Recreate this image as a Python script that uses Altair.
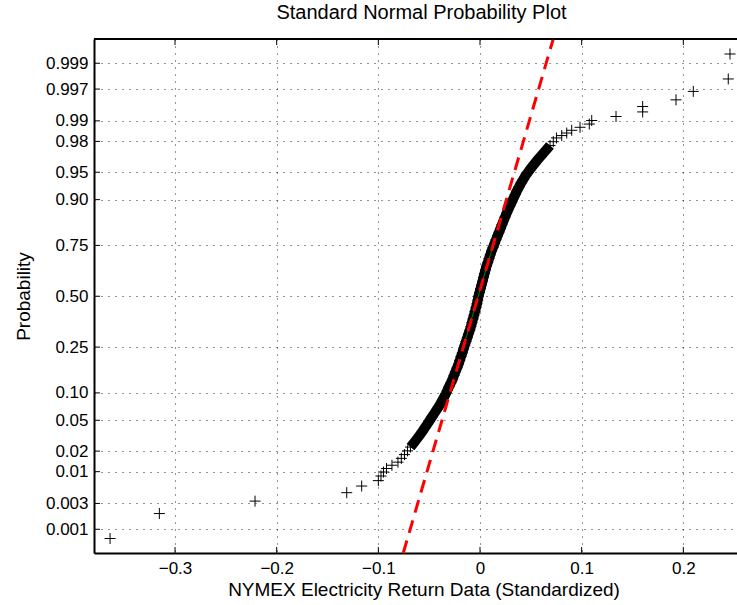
import altair as alt
import pandas as pd
from statistics import NormalDist

nd = NormalDist()

# ---------------- data ----------------
# y values are standard-normal quantiles of the plotting positions
lo_z = [-3.213, -2.882, -2.717, -2.605, -2.517, -2.445, -2.384, -2.331, -2.284, -2.241]
lo_x = [-0.3639, -0.3154, -0.2213, -0.1311, -0.1164, -0.1000, -0.0974, -0.0949, -0.0920, -0.0866]

dense_z = [-2.20, -2.15, -2.10, -2.05, -2.00, -1.95, -1.90, -1.85, -1.80, -1.75,
           -1.70, -1.65, -1.60, -1.55, -1.50, -1.45, -1.40, -1.35, -1.30, -1.25,
           -1.20, -1.15, -1.10, -1.05, -1.00, -0.95, -0.90, -0.85, -0.80, -0.75,
           -0.70, -0.65, -0.60, -0.55, -0.50, -0.45, -0.40, -0.35, -0.30, -0.25,
           -0.20, -0.15, -0.10, -0.05, 0.00, 0.05, 0.10, 0.15, 0.20, 0.25,
           0.30, 0.35, 0.40, 0.45, 0.50, 0.55, 0.60, 0.65, 0.70, 0.75,
           0.80, 0.85, 0.90, 0.95, 1.00, 1.05, 1.10, 1.15, 1.20, 1.25,
           1.30, 1.35, 1.40, 1.45, 1.50, 1.55, 1.60, 1.65, 1.70, 1.75,
           1.80, 1.85, 1.90, 1.95, 2.00, 2.05, 2.10]
dense_x = [-0.0807, -0.0774, -0.0743, -0.0713, -0.0684, -0.0654, -0.0625, -0.0597, -0.0570, -0.0546,
           -0.0521, -0.0497, -0.0472, -0.0448, -0.0423, -0.0400, -0.0379, -0.0359, -0.0339, -0.0322,
           -0.0305, -0.0287, -0.0270, -0.0256, -0.0241, -0.0226, -0.0211, -0.0199, -0.0187, -0.0174,
           -0.0162, -0.0150, -0.0138, -0.0125, -0.0113, -0.0100, -0.0089, -0.0079, -0.0069, -0.0059,
           -0.0049, -0.0039, -0.0030, -0.0022, -0.0015, -0.0005, 0.0005, 0.0015, 0.0025, 0.0034,
           0.0044, 0.0054, 0.0064, 0.0077, 0.0089, 0.0101, 0.0113, 0.0128, 0.0143, 0.0157,
           0.0172, 0.0187, 0.0202, 0.0216, 0.0231, 0.0246, 0.0261, 0.0278, 0.0295, 0.0313,
           0.0329, 0.0347, 0.0364, 0.0384, 0.0403, 0.0426, 0.0448, 0.0475, 0.0502, 0.0531,
           0.0561, 0.0593, 0.0625, 0.0657, 0.0689, 0.0721, 0.0752]

hi_z = [2.131, 2.165, 2.201, 2.241, 2.284, 2.331, 2.384, 2.445, 2.517, 2.605, 2.717, 2.882, 3.213]
hi_x = [0.0804, 0.0853, 0.0902, 0.0984, 0.1075, 0.1099, 0.1338, 0.1600, 0.1600, 0.1928, 0.2098, 0.2442, 0.2459]

# reference line (fitted normal): mean and std of the returns
fit_mean = -0.0018
fit_std = 0.02164
quartile_probs = [0.25, 0.75]

x_ticks = [-0.3, -0.2, -0.1, 0.0, 0.1, 0.2]
prob_ticks = [0.001, 0.003, 0.01, 0.02, 0.05, 0.10, 0.25, 0.50, 0.75, 0.90, 0.95, 0.98, 0.99, 0.997, 0.999]
prob_labels = ["0.001", "0.003", "0.01", "0.02", "0.05", "0.10", "0.25", "0.50", "0.75", "0.90",
               "0.95", "0.98", "0.99", "0.997", "0.999"]

XLIM = [-0.3797, 0.2528]
YLIM_Z = [-3.405, 3.412]

# ---------------- derived tables ----------------
assert len(dense_z) == len(dense_x)
pts = pd.DataFrame({"ret": lo_x + dense_x + hi_x, "z": lo_z + dense_z + hi_z})
dense = pd.DataFrame({"ret": dense_x, "z": dense_z})
# where the markers overlap completely they merge into a solid band
band = dense[dense["z"].abs() <= 2.0]
fit = pd.DataFrame({"z": YLIM_Z})
fit["ret"] = fit_mean + fit_std * fit["z"]
qz = [nd.inv_cdf(p) for p in quartile_probs]
qline = pd.DataFrame({"z": qz})
qline["ret"] = fit_mean + fit_std * qline["z"]

tick_z = [nd.inv_cdf(p) for p in prob_ticks]
expr = "''"
for zv, lab in reversed(list(zip(tick_z, prob_labels))):
    expr = f"abs(datum.value - ({zv:.6f})) < 0.0005 ? '{lab}' : " + expr

W, H = 643, 514
FONT = "Liberation Sans"
xs = alt.Scale(domain=XLIM, nice=False, zero=False)
ys = alt.Scale(domain=YLIM_Z, nice=False, zero=False)

AX = dict(domainColor="black", domainWidth=2, ticks=False,
          gridColor="#111", gridDash=[1, 6], gridWidth=1, gridOpacity=0.9,
          labelFont=FONT, labelFontSize=17, labelColor="black",
          titleFont=FONT, titleFontSize=19, titleFontWeight="normal", titleColor="black")

x_axis = alt.Axis(values=x_ticks, format=".1~f", grid=True,
                  title="NYMEX Electricity Return Data (Standardized)",
                  labelPadding=7, titlePadding=4, titleX=W / 2 + 8, **AX)
y_axis = alt.Axis(values=tick_z, labelExpr=expr, grid=True, title="Probability",
                  labelPadding=6, titlePadding=12, **AX)


def X(field):
    return alt.X(field, type="quantitative", scale=xs, axis=x_axis)


def Y(field):
    return alt.Y(field, type="quantitative", scale=ys, axis=y_axis)


plus = "M-1,0L1,0M0,-1L0,1"

band_line = alt.Chart(band).mark_line(color="black", strokeWidth=10).encode(
    x=X("ret"), y=Y("z"), order="z:Q",
)

points = alt.Chart(pts).mark_point(
    shape=plus, size=121, filled=False, color="black", strokeWidth=1, opacity=1
).encode(x=X("ret"), y=Y("z"))

green = alt.Chart(qline).mark_line(color="#008000", strokeWidth=1).encode(x=X("ret"), y=Y("z"))

red = alt.Chart(fit).mark_line(color="#ff0000", strokeWidth=3, strokeDash=[13, 8]).encode(
    x=X("ret"), y=Y("z"))

xt = pd.DataFrame({"ret": x_ticks})
top_ticks = alt.Chart(xt).mark_rule(color="black", strokeWidth=1).encode(
    x=X("ret"), y=alt.value(0), y2=alt.value(6))
bot_ticks = alt.Chart(xt).mark_rule(color="black", strokeWidth=1).encode(
    x=X("ret"), y=alt.value(H), y2=alt.value(H - 6))
yt = pd.DataFrame({"z": tick_z})
left_ticks = alt.Chart(yt).mark_rule(color="black", strokeWidth=1).encode(
    y=Y("z"), x=alt.value(0), x2=alt.value(6))
top_border = alt.Chart(pd.DataFrame({"a": [0]})).mark_rule(color="black", strokeWidth=2).encode(
    x=alt.value(0), x2=alt.value(W), y=alt.value(0))

chart = alt.layer(
    band_line, points, green, red, top_ticks, bot_ticks, left_ticks, top_border
).properties(
    width=W, height=H,
    title=alt.TitleParams("Standard Normal Probability Plot", font=FONT, fontSize=20,
                          fontWeight="normal", color="black", offset=10, dx=6),
    autosize=alt.AutoSizeParams(type="none"),
    padding={"left": 94, "top": 39, "right": 0, "bottom": 52},
    background="white",
).configure_view(stroke=None).configure_axis(**AX)

chart.save("out.html", embed_options={"renderer": "svg", "actions": False})
